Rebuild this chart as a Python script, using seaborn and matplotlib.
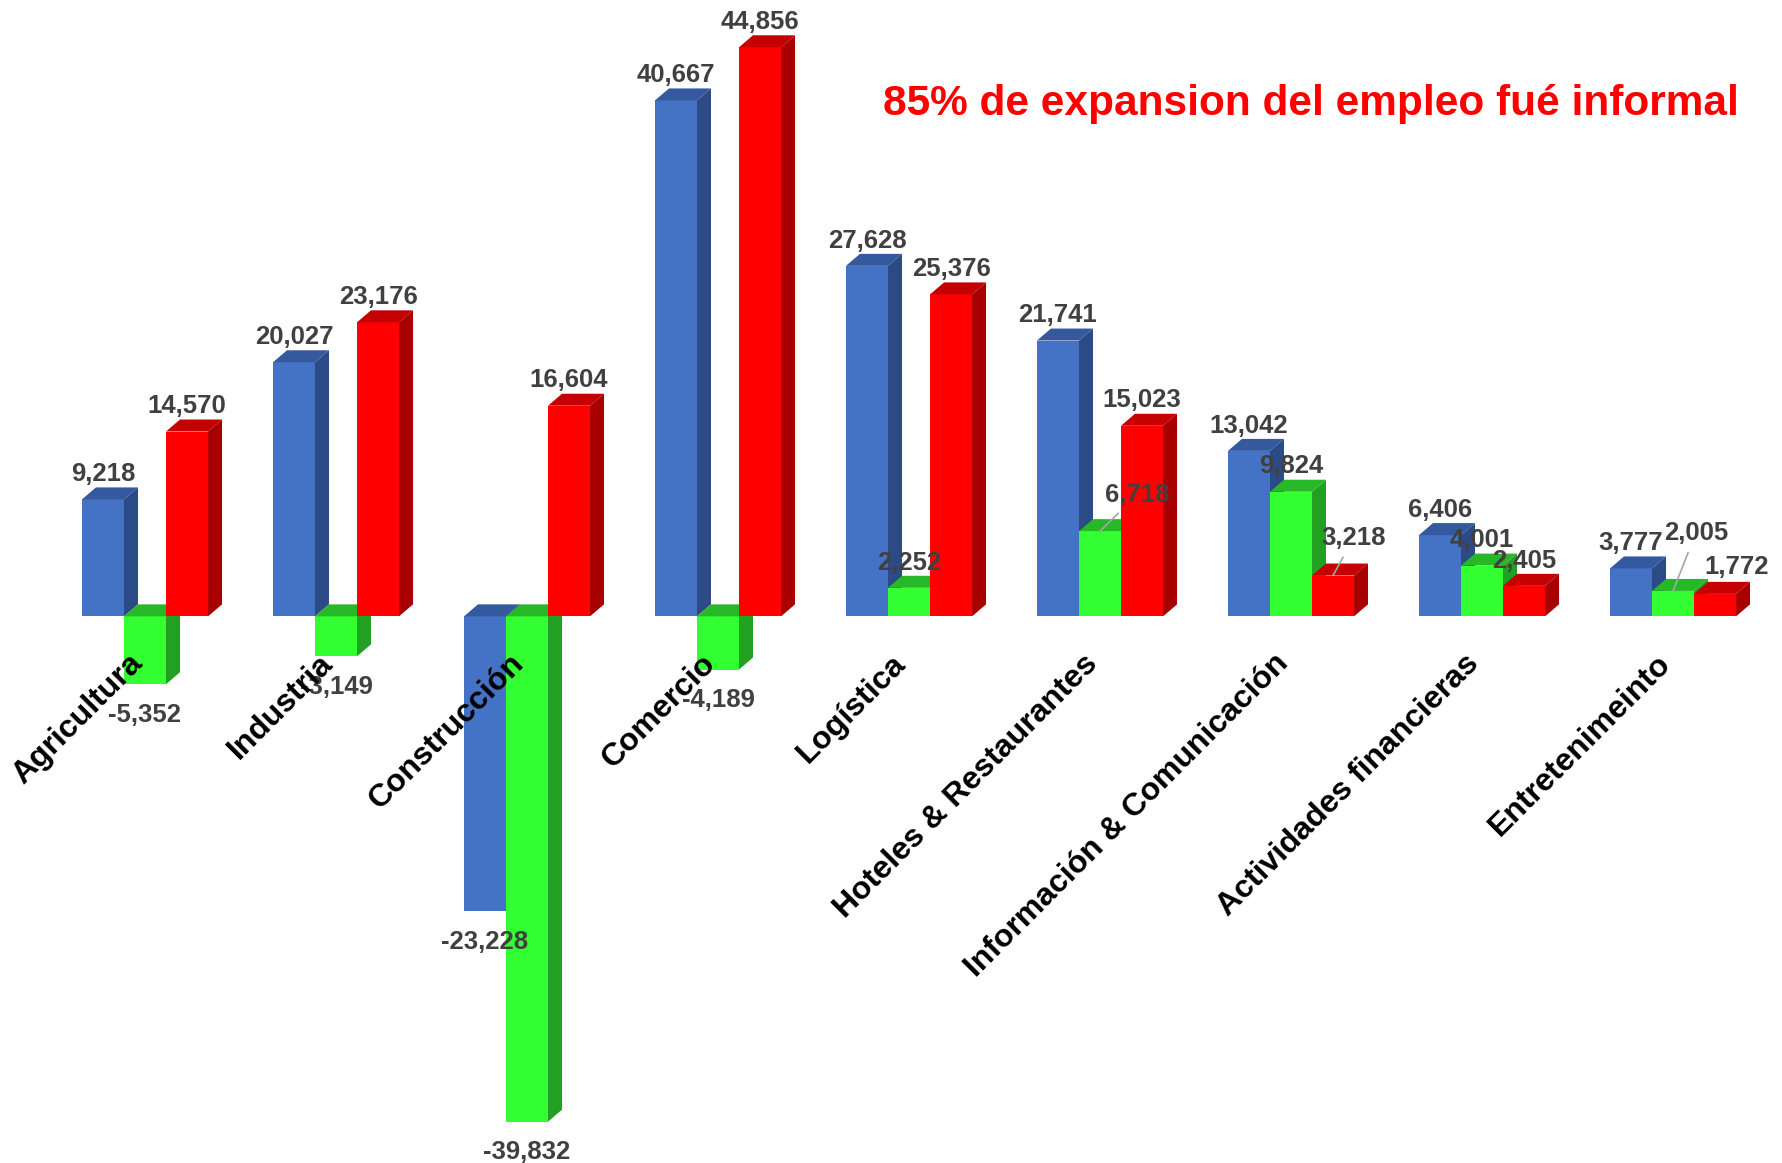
import numpy as np
import pandas as pd
import matplotlib
matplotlib.use("Agg")
import matplotlib.pyplot as plt
import seaborn as sns
from matplotlib.patches import Polygon

# ---------------- data ----------------
sectores = ["Agricultura", "Industria", "Construcción", "Comercio", "Logística",
            "Hoteles & Restaurantes", "Información & Comunicación",
            "Actividades financieras", "Entretenimeinto"]
series = ["Total", "Formal", "Informal"]
total = [9218, 20027, -23228, 40667, 27628, 21741, 13042, 6406, 3777]
formal = [-5352, -3149, -39832, -4189, 2252, 6718, 9824, 4001, 2005]
informal = [14570, 23176, 16604, 44856, 25376, 15023, 3218, 2405, 1772]
titulo = "85% de expansion del empleo fué informal"

# ---------------- style ----------------
front_colors = ["#4472C4", "#33FF33", "#FF0000"]
side_colors = ["#2C4A86", "#22A022", "#A80000"]
top_colors = ["#34599E", "#26B826", "#C40000"]
label_color = "#404040"
# label offsets (points) for labels moved off their default spot, with leader line flag
special = {
    ("Hoteles & Restaurantes", "Formal"): (26.6, 26, True),
    ("Información & Comunicación", "Informal"): (14.7, 26.8, True),
    ("Entretenimeinto", "Formal"): (16.4, 41.5, True),
    ("Entretenimeinto", "Informal"): (15.5, 19.5, False),
}

sns.set_theme(style="white")
plt.rcParams["font.family"] = ["Liberation Sans", "DejaVu Sans"]

df = pd.DataFrame({
    "sector": sectores * 3,
    "serie": [s for s in series for _ in sectores],
    "valor": total + formal + informal,
})

fig = plt.figure(figsize=(17.83, 11.63), dpi=100)
ax = fig.add_axes([0.02776, 0.00095, 0.96411, 0.99269])
sns.barplot(data=df, x="sector", y="valor", hue="serie", hue_order=series,
            order=sectores, palette=front_colors, width=0.66, saturation=1,
            legend=False, ax=ax, linewidth=0, errorbar=None)
ax.set_xlim(-0.5, 8.5)
ax.set_ylim(-43000, 48000)
ax.axis("off")

# depth of the 3D effect in data units (14 px right, 12 px up)
bbox = ax.get_window_extent()
DX = 14 * (9.0 / bbox.width)
DY = 12 * (91000.0 / bbox.height)

for k, cont in enumerate(ax.containers):
    for j, bar in enumerate(cont):
        x0, w = bar.get_x(), bar.get_width()
        y, h = bar.get_y(), bar.get_height()
        ylo, yhi = min(y, y + h), max(y, y + h)
        x1 = x0 + w
        bar.set_zorder(2 + k)
        side = Polygon([(x1, ylo), (x1 + DX, ylo + DY), (x1 + DX, yhi + DY), (x1, yhi)],
                       closed=True, fc=side_colors[k], lw=0, zorder=2.5 + k)
        top = Polygon([(x0, yhi), (x0 + DX, yhi + DY), (x1 + DX, yhi + DY), (x1, yhi)],
                      closed=True, fc=top_colors[k], lw=0, zorder=2.5 + k)
        ax.add_patch(side)
        ax.add_patch(top)

        val = [total, formal, informal][k][j]
        txt = f"{val:,}"
        cx = x0 + w / 2
        key = (sectores[j], series[k])
        if key in special:
            ox, oy, line = special[key]
            ap = dict(arrowstyle="-", color="#A6A6A6", lw=1.2, shrinkA=3, shrinkB=0) if line else None
            ax.annotate(txt, xy=(cx, yhi), xytext=(ox, oy), textcoords="offset points",
                        ha="center", va="center", fontsize=18.5, fontweight="bold",
                        color=label_color, zorder=10, arrowprops=ap)
        elif val >= 0:
            ax.annotate(txt, xy=(cx, yhi), xytext=(0, 18.2), textcoords="offset points",
                        ha="center", va="center", fontsize=18.5, fontweight="bold",
                        color=label_color, zorder=10)
        else:
            ax.annotate(txt, xy=(cx, ylo), xytext=(0, -22), textcoords="offset points",
                        ha="center", va="center", fontsize=18.5, fontweight="bold",
                        color=label_color, zorder=10)

for i, s in enumerate(sectores):
    ax.annotate(s, xy=(i, 0), xytext=(-12.8, -23), textcoords="offset points",
                ha="right", va="top", rotation=45, rotation_mode="anchor",
                fontsize=23, fontweight="bold", color="black", zorder=11)

fig.text(0.735, 0.911, titulo, ha="center", va="center", fontsize=30.5,
         fontweight="bold", color="#FF0000")

fig.savefig("out.png", dpi=100)
